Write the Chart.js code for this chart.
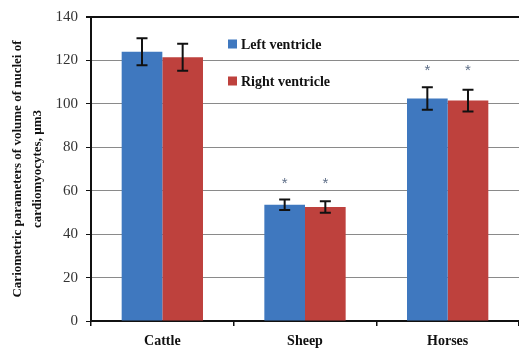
<!DOCTYPE html>
<html>
<head>
<meta charset="utf-8">
<script src="https://cdn.jsdelivr.net/npm/chart.js@4.4.0/dist/chart.umd.min.js"></script>
<style>
  html, body { margin: 0; padding: 0; background: #fff; }
  #wrap { width: 519px; height: 349px; }
</style>
</head>
<body>
<div id="wrap"><canvas id="chart"></canvas></div>
<script>
const categories = ['Cattle', 'Sheep', 'Horses'];
const leftValues = [124, 53.5, 102.5];
const rightValues = [121.5, 52.5, 101.5];
const leftErrors = [6.2, 2.4, 5.2];
const rightErrors = [6.2, 2.6, 5.0];
const significant = [false, true, true];
const yTicks = [0, 20, 40, 60, 80, 100, 120, 140];

const serif = '"Liberation Serif", "Times New Roman", serif';
const blue = '#3f78bf';
const red = '#be413d';

// error bars + asterisks
const errorBars = {
  id: 'errorBars',
  afterDatasetsDraw(chart) {
    const ctx = chart.ctx;
    const y = chart.scales.y;
    const errs = [leftErrors, rightErrors];
    const tops = [];
    ctx.save();
    ctx.strokeStyle = '#111';
    ctx.lineWidth = 2;
    chart.data.datasets.forEach((ds, i) => {
      const meta = chart.getDatasetMeta(i);
      meta.data.forEach((bar, j) => {
        const v = ds.data[j];
        const e = errs[i][j];
        const yt = y.getPixelForValue(v + e);
        const yb = y.getPixelForValue(v - e);
        const x = bar.x;
        ctx.beginPath();
        ctx.moveTo(x, yt); ctx.lineTo(x, yb);
        ctx.moveTo(x - 5.5, yt); ctx.lineTo(x + 5.5, yt);
        ctx.moveTo(x - 5.5, yb); ctx.lineTo(x + 5.5, yb);
        ctx.stroke();
        tops[j] = Math.min(tops[j] ?? Infinity, yt);
      });
    });
    ctx.fillStyle = '#5f6f88';
    ctx.font = '15px "Liberation Sans", sans-serif';
    ctx.textAlign = 'center';
    ctx.textBaseline = 'middle';
    chart.data.datasets.forEach((ds, i) => {
      const meta = chart.getDatasetMeta(i);
      meta.data.forEach((bar, j) => {
        if (significant[j]) ctx.fillText('*', bar.x, tops[j] - 16);
      });
    });
    ctx.restore();
  }
};

// legend inside the plot
const innerLegend = {
  id: 'innerLegend',
  afterDraw(chart) {
    const ctx = chart.ctx;
    ctx.save();
    ctx.font = 'bold 14px ' + serif;
    ctx.textBaseline = 'middle';
    ctx.textAlign = 'left';
    chart.data.datasets.forEach((ds, i) => {
      const cy = 44 + i * 37;
      ctx.fillStyle = ds.backgroundColor;
      ctx.fillRect(228, cy - 4.5, 9, 9);
      ctx.fillStyle = '#111';
      ctx.fillText(ds.label, 241, cy + 1);
    });
    ctx.restore();
  }
};

new Chart(document.getElementById('chart'), {
  type: 'bar',
  data: {
    labels: categories,
    datasets: [
      { label: 'Left ventricle', data: leftValues, backgroundColor: blue,
        categoryPercentage: 0.57, barPercentage: 1 },
      { label: 'Right ventricle', data: rightValues, backgroundColor: red,
        categoryPercentage: 0.57, barPercentage: 1 }
    ]
  },
  options: {
    responsive: true,
    maintainAspectRatio: false,
    animation: false,
    layout: { padding: { top: 15, right: 0, left: 0, bottom: 0 } },
    plugins: {
      legend: { display: false },
      tooltip: { enabled: false }
    },
    scales: {
      x: {
        grid: { drawOnChartArea: false, drawTicks: true, tickLength: 5, tickColor: '#111', lineWidth: 1.5 },
        border: { color: '#111', width: 2 },
        ticks: { color: '#111', padding: 7, font: { family: serif, size: 14, weight: 'bold' } },
        afterFit(scale) { scale.height = 28; }
      },
      y: {
        min: 0,
        max: 140,
        afterBuildTicks(scale) { scale.ticks = yTicks.map(v => ({ value: v })); },
        grid: {
          color: ctx => ctx.tick && ctx.tick.value === 140 ? '#111' : '#8a8a8a',
          lineWidth: ctx => ctx.tick && ctx.tick.value === 140 ? 2 : 1,
          tickColor: '#111',
          tickLength: 5
        },
        border: { color: '#111', width: 2 },
        ticks: { color: '#333', padding: 8, font: { family: serif, size: 15 } },
        title: {
          display: true,
          text: ['Cariometric parameters of volume of nuclei of', 'cardiomyocytes, \u00b5m3'],
          color: '#111',
          font: { family: serif, size: 13, weight: 'bold', lineHeight: 1.54 },
          padding: { top: 8, bottom: 0 }
        },
        afterFit(scale) { scale.width = 91; }
      }
    }
  },
  plugins: [errorBars, innerLegend]
});
</script>
</body>
</html>
